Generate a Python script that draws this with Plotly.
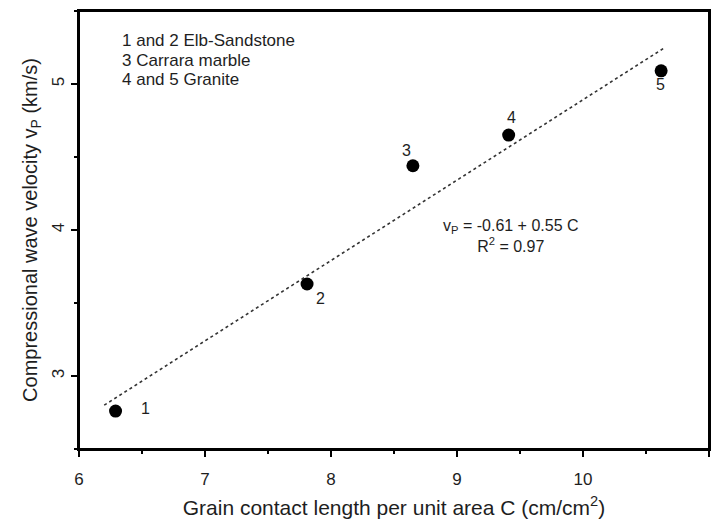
import plotly.graph_objects as go

# Data
sample_ids = ["1", "2", "3", "4", "5"]
contact_length = [6.29, 7.81, 8.65, 9.41, 10.62]
velocity = [2.76, 3.63, 4.44, 4.65, 5.09]

fit_x = [6.2, 10.65]
fit_y = [2.80, 5.25]

x_ticks = [6, 7, 8, 9, 10, 11]
y_ticks = [3, 4, 5]

legend_lines = ["1 and 2 Elb-Sandstone", "3 Carrara marble", "4 and 5 Granite"]
equation_text = "v<sub>P</sub> = -0.61 + 0.55 C<br>R<sup>2</sup> = 0.97"

# label offsets in pixels (x, y) relative to each point
label_offsets = [(30, 3), (13, -14), (-6, 15), (3, 18), (-1, -14)]
legend_y = [0.932, 0.887, 0.843]

FONT = "Liberation Sans, Arial, sans-serif"
TXT = "#1e1e1e"

fig = go.Figure()

fig.add_trace(go.Scatter(
    x=fit_x, y=fit_y, mode="lines",
    line=dict(color="#333333", width=1.6, dash="dot"),
    hoverinfo="skip", showlegend=False,
))

fig.add_trace(go.Scatter(
    x=contact_length, y=velocity, mode="markers",
    marker=dict(color="black", size=13, line=dict(width=0)),
    showlegend=False,
))

for sid, cx, vy, (dx, dy) in zip(sample_ids, contact_length, velocity, label_offsets):
    fig.add_annotation(x=cx, y=vy, text=sid, showarrow=False,
                       xshift=dx, yshift=dy,
                       font=dict(family=FONT, size=16, color=TXT))

for line, ly in zip(legend_lines, legend_y):
    fig.add_annotation(
        xref="paper", yref="paper", x=0.065, y=ly,
        xanchor="left", yanchor="middle", align="left",
        text=line, showarrow=False,
        font=dict(family=FONT, size=17, color=TXT),
    )

fig.add_annotation(
    x=9.43, y=3.96, text=equation_text, showarrow=False,
    align="center", xanchor="center", yanchor="middle",
    font=dict(family=FONT, size=16, color=TXT),
)

# frame around the plot area
fig.add_shape(type="rect", xref="paper", yref="paper", x0=0, y0=0, x1=1, y1=1,
              line=dict(color="black", width=2), layer="above")

axis_common = dict(
    showgrid=False, zeroline=False, automargin=False,
    showline=True, linecolor="black", linewidth=2, mirror=True,
    ticks="outside", ticklen=6, tickwidth=1.5, tickcolor="black",
    tickfont=dict(family=FONT, size=17, color=TXT),
    minor=dict(ticks="outside", ticklen=3, tickwidth=1.5, tickcolor="black", dtick=0.5),
)

fig.update_xaxes(
    range=[6, 11], tickvals=x_ticks, ticktext=[str(v) for v in x_ticks],
    ticklabelstandoff=8,
    title=dict(text="Grain contact length per unit area C (cm/cm<sup>2</sup>)",
               font=dict(family=FONT, size=21, color=TXT), standoff=12),
    **axis_common,
)
fig.update_yaxes(
    range=[2.5, 5.5], tickvals=y_ticks, ticktext=[str(v) for v in y_ticks],
    tickangle=-90,
    title=dict(text="Compressional wave velocity v<sub>P</sub> (km/s)",
               font=dict(family=FONT, size=20, color=TXT), standoff=6),
    **axis_common,
)

fig.update_layout(
    width=715, height=524,
    margin=dict(l=79, r=6, t=11, b=75),
    plot_bgcolor="white", paper_bgcolor="white",
    font=dict(family=FONT, color=TXT),
)

fig.write_html(
    "out.html",
    config={"displayModeBar": False},
    post_script="document.body.style.margin='0';document.body.style.overflow='hidden';",
)
